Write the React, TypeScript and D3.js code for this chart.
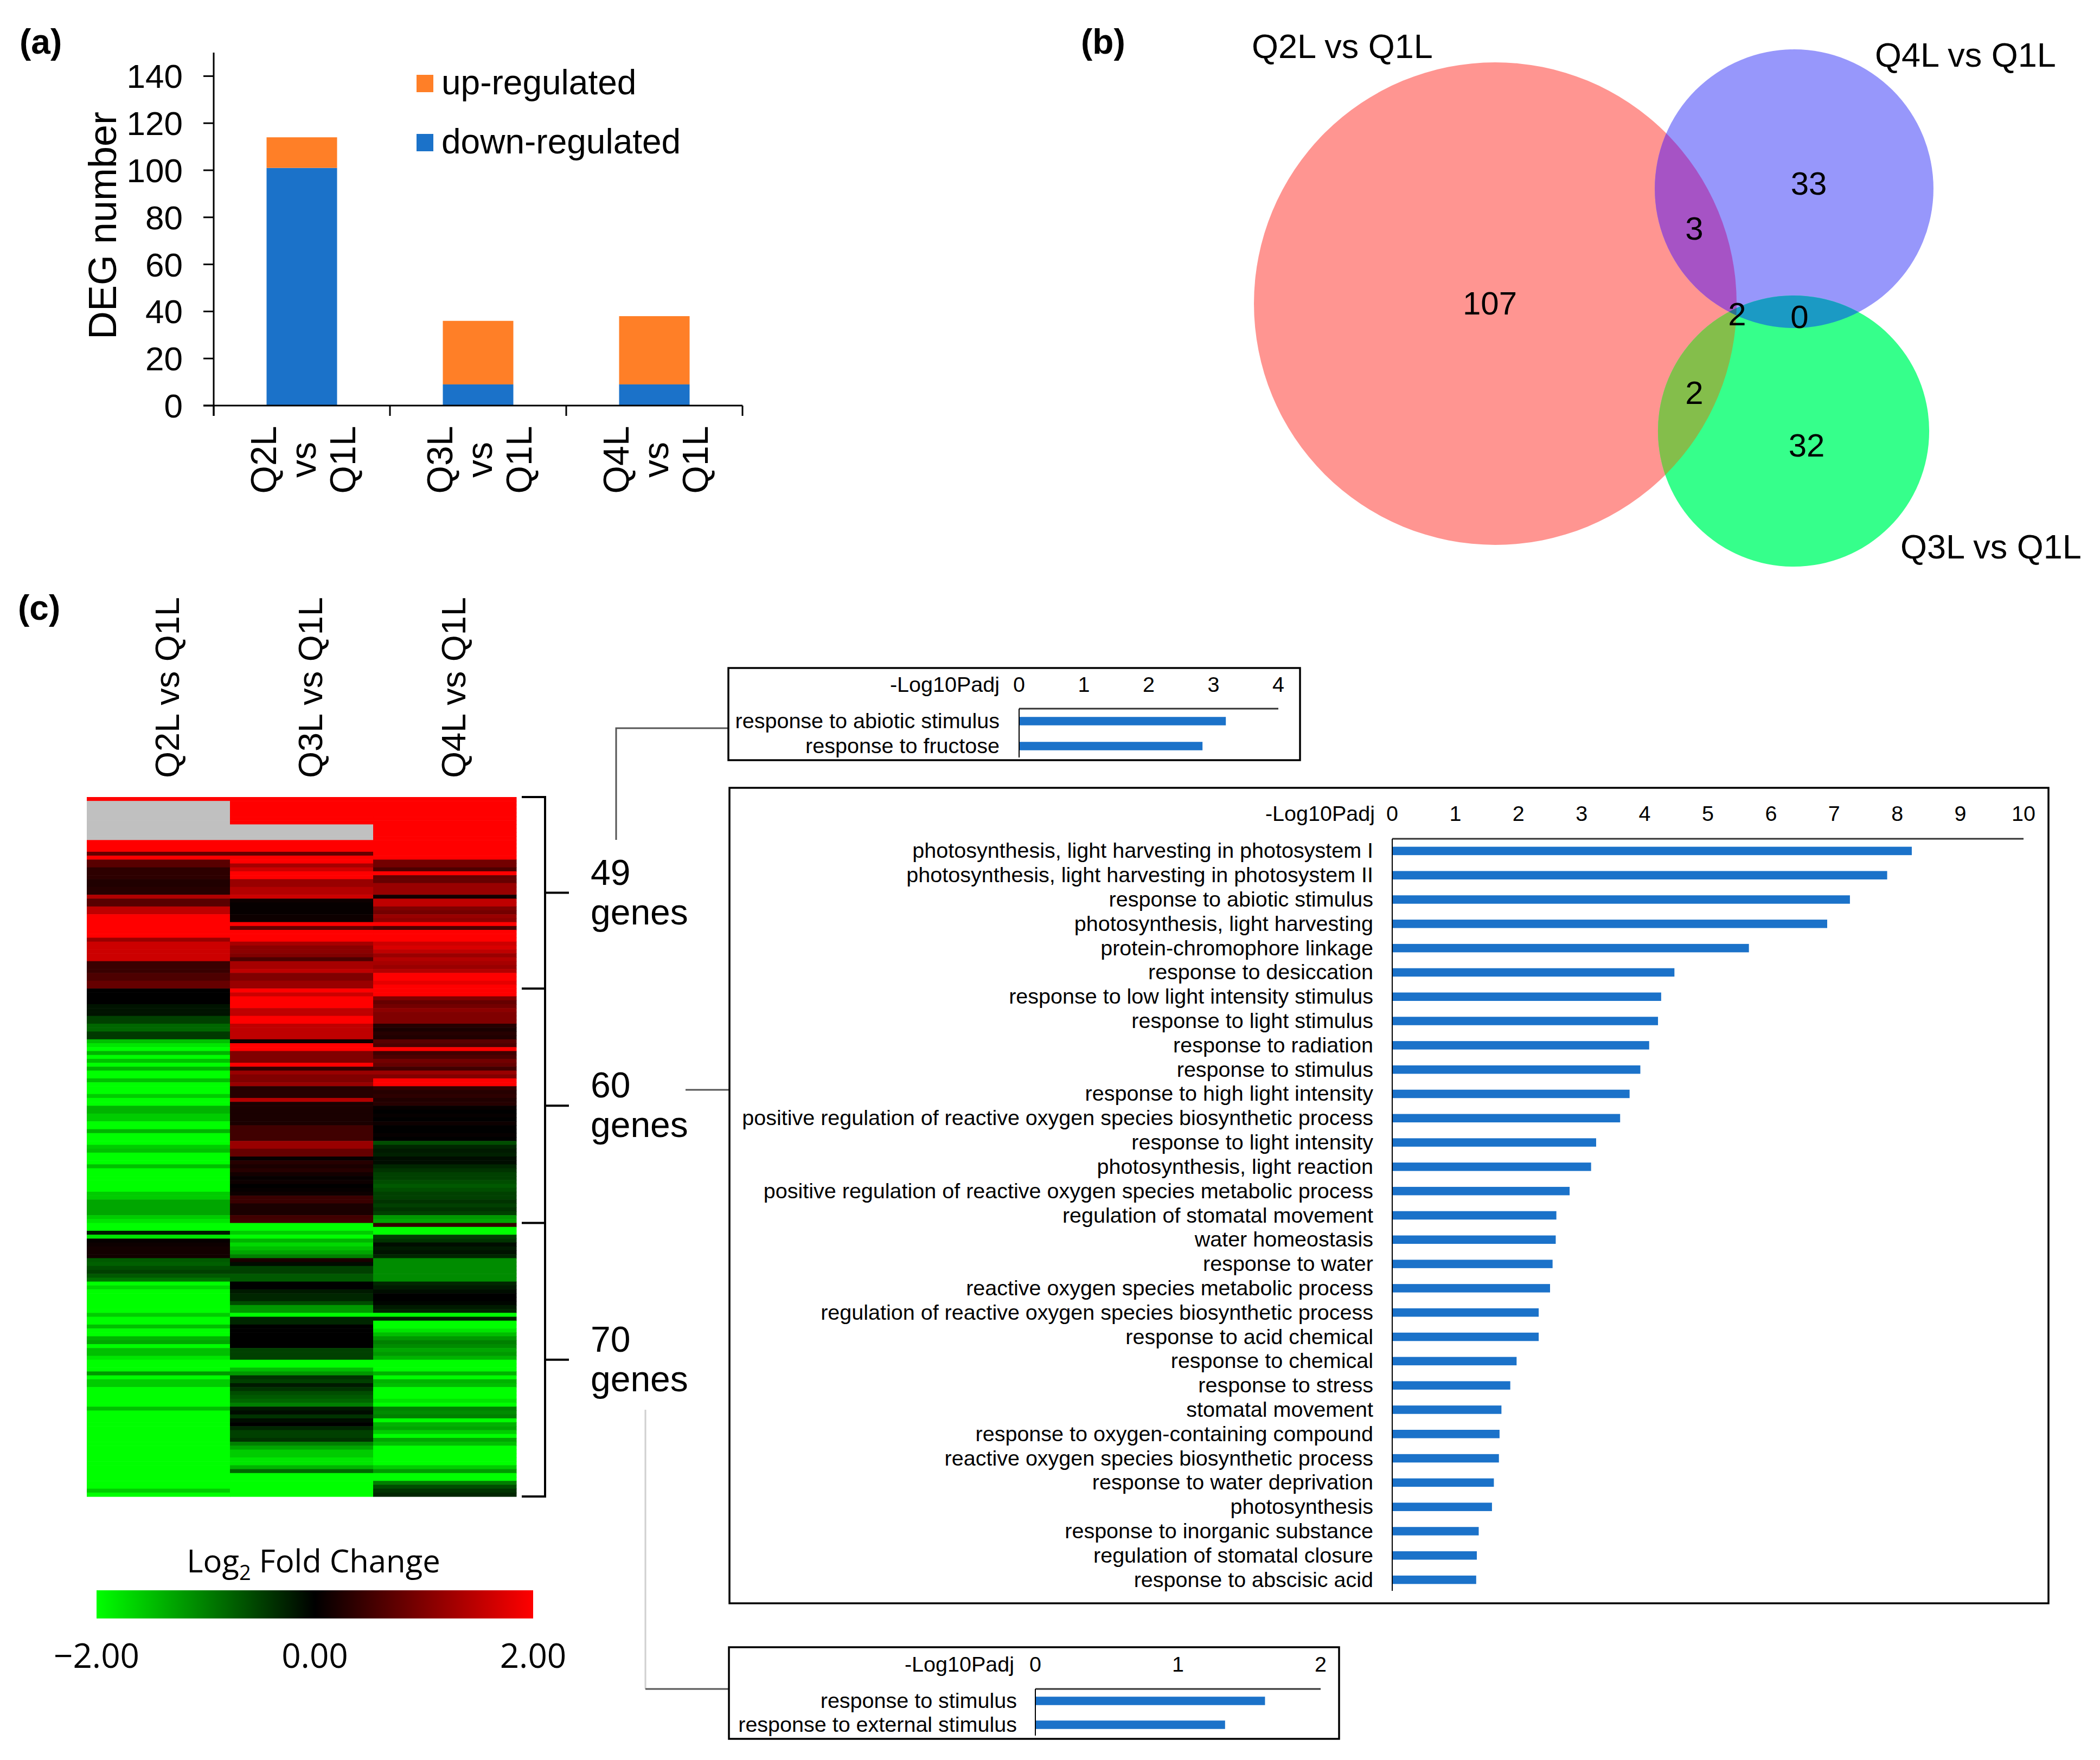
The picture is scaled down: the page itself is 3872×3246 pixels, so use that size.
import * as d3 from 'd3'
import React from 'react'

const W = 3872
const H = 3246
const FONT = "'Liberation Sans', Arial, Helvetica, sans-serif"
const LEGEND_FONT = "'Open Sans', 'Noto Sans', sans-serif"

// (a) DEG numbers per comparison
const degComparisons = ['Q2L vs Q1L', 'Q3L vs Q1L', 'Q4L vs Q1L']
const downRegulated = [101, 9, 9]
const upRegulated = [13, 27, 29]
const degTicks = [0, 20, 40, 60, 80, 100, 120, 140]

// (b) Venn regions
const vennSets = ['Q2L vs Q1L', 'Q4L vs Q1L', 'Q3L vs Q1L']
const vennRegionSets = [['Q2L vs Q1L'], ['Q4L vs Q1L'], ['Q3L vs Q1L'], ['Q2L vs Q1L', 'Q4L vs Q1L'], ['Q2L vs Q1L', 'Q3L vs Q1L'], ['Q4L vs Q1L', 'Q3L vs Q1L'], ['Q2L vs Q1L', 'Q4L vs Q1L', 'Q3L vs Q1L']]
const vennCounts = [107, 33, 32, 3, 2, 0, 2]

// (c) heatmap, log2 fold change, run-length [rows, value] per comparison, null = no value
const heatmapColumns = ['Q2L vs Q1L', 'Q3L vs Q1L', 'Q4L vs Q1L']
const clusterSizes = [49, 60, 70]
const q2lRuns: [number, number | null][] = [
  [1, 2], [10, null], [3, 2], [1, 0.8], [1, 2], [2, 0.7], [3, 0.35], [2, 0.25], [2, 0.3], [1, 1.4], [2, 0.7],
  [2, 1.5], [2, 2], [4, 2], [1, 1.2], [5, 1.6], [3, 0.45], [2, 0.6], [2, 0.8],
  [4, 0], [3, -0.15], [2, -0.5], [2, -0.8], [2, -0.45],
  [1, -1.5], [1, -1.8], [1, -2], [1, -1.4], [1, -2], [1, -1.5], [1, -2], [1, -1.4],
  [2, -2], [1, -1.5], [3, -2], [1, -1.6], [2, -2], [2, -1.4], [2, -1.6], [2, -2], [1, -1.4], [3, -2],
  [1, -1.6], [1, -1.5], [3, -2], [1, -1.5], [6, -2], [2, -1.6], [4, -1.3], [1, -1.6], [1, -1.8],
  [2, -2], [1, -0.2], [1, -1.8], [1, 0.05], [1, 0.1], [3, 0.15],
  [1, -0.7], [1, -0.75], [1, -0.6], [1, -0.5], [1, -0.7], [1, -0.9],
  [1, -2], [1, -1.7], [6, -2], [1, -1.6], [2, -2],
  [1, -1.5], [2, -2], [1, -1.4], [1, -1.3], [1, -2], [2, -1.5], [1, -1.8],
  [3, -2], [1, -1.2], [1, -2], [2, -1.6], [5, -2], [1, -1.5], [20, -2], [1, -1.6], [1, -2],
]
const q3lRuns: [number, number | null][] = [
  [7, 2], [4, null], [3, 2], [1, 0.8], [1, 2],
  [1, 2], [1, 1.3], [1, 1.6], [2, 2], [2, 1.2], [2, 1.4], [1, 1.6],
  [1, 0.1], [3, 0.05], [2, 0.1], [1, 2], [1, 0.8], [3, 2],
  [1, 1.3], [2, 1.1], [1, 1], [1, 0.6], [2, 1.3], [1, 1.5], [2, 1], [2, 1.2],
  [1, 2], [1, 1.6], [3, 2], [2, 1.5], [2, 2], [4, 1.5],
  [1, 0.1], [2, 2], [3, 1], [1, 2], [1, 0.4], [1, 1.2], [2, 1], [1, 1.2],
  [3, 0.3], [1, 1.4], [6, 0.2], [4, 0.5], [2, 1.2], [2, 0.8],
  [1, 0.05], [1, 0.3], [1, 0.2], [1, 0.3], [1, 0.15], [1, 0.05], [1, 0.1], [1, 0], [1, 0.05], [1, 0.1],
  [2, 0.45], [3, 0.2], [2, 0.5],
  [2, -2], [1, -1.6], [1, -2], [1, -1.4], [1, -1.7], [1, -1.5], [1, -1.3], [1, -1],
  [1, 0.2], [1, -0.1], [2, -0.5], [2, -0.7], [2, 0], [1, -0.2], [2, -0.3], [1, -0.6],
  [2, -1.2], [1, -2], [2, -0.3], [6, 0], [3, -0.5],
  [2, -2], [1, -1.5], [1, -1.2], [1, -0.4],
  [1, -0.5], [1, -0.2], [1, -0.4], [1, -0.6], [1, -0.7], [1, -0.8], [1, -1],
  [1, -0.2], [1, -0.1], [1, -0.4], [1, -0.1], [1, 0], [1, -0.3], [2, -0.5], [1, -0.4], [1, -1],
  [1, -1.3], [2, -1.6], [2, -1.8], [1, -1.4], [1, -0.8], [6, -2],
]
const q4lRuns: [number, number | null][] = [
  [16, 2], [2, 0.9], [1, 0.6], [1, 2], [2, 0.8], [3, 1.2], [1, 0.15], [2, 1.5],
  [1, 1], [1, 0.9], [1, 1.2], [1, 1.1], [1, 2], [1, 0.6], [3, 2],
  [1, 1.6], [1, 1.7], [1, 1.5], [1, 1.2], [1, 1.4],
  [1, 1.3], [1, 1.2], [1, 1.4], [2, 2], [1, 1.8], [1, 2],
  [2, 2], [1, 1], [1, 0.8], [1, 0.9], [1, 1.1], [1, 1], [2, 1],
  [1, 0.3], [1, 0.2], [1, 0.3], [1, 0.25], [1, 0.7], [1, 0.6], [1, 2],
  [1, 0.5], [1, 0.6], [1, 0.9], [1, 0.8], [1, 0.5], [1, 1.2], [1, 1], [2, 2],
  [1, 0.4], [1, 0.3], [1, 0.35], [1, 0.25], [1, 0.3],
  [1, 0.05], [1, 0], [1, 0.05], [1, 0], [1, 0.1], [2, 0], [1, 0.05], [1, 0],
  [1, -0.6], [1, -0.3], [1, -0.2], [1, -0.25], [1, -0.1],
  [1, -0.1], [1, -0.3], [1, -0.4], [2, -0.5], [1, -0.6], [1, -0.7], [1, -0.6], [1, -0.5],
  [1, -0.5], [1, -0.4], [1, -0.5], [1, -0.4], [1, -0.5], [1, -1.2], [1, -1.3],
  [1, 0.4], [2, -2], [1, -0.5], [1, -0.4], [1, -0.1], [1, -0.2], [1, -0.15], [1, -0.3],
  [6, -1.1], [1, -0.3], [1, -0.2], [1, -0.1], [2, 0], [1, -0.05], [1, -0.2], [1, -0.3],
  [1, -2], [1, -0.3], [1, -2],
  [1, -2], [1, -1.8], [1, -1.5], [1, -1.2], [1, -1], [1, -1.1], [1, -1.3], [1, -1.2], [1, -1.4],
  [3, -2], [1, -1.4], [1, -2], [1, -1.4], [1, -1.5], [3, -2], [1, -1.8], [1, -2],
  [1, -1], [1, -1.1], [1, -1], [1, -2], [1, -1.4], [1, -1.3], [1, -1.6], [1, -2], [1, -1.3], [1, -1.5],
  [5, -2], [1, -1.6], [1, -1.2], [2, -2], [1, -1], [1, -0.6], [1, -0.4], [1, -0.3],
]
const legendTicks = [-2, 0, 2]

// (c) GO enrichment, -log10 padj
const goTopTerms = ['response to abiotic stimulus', 'response to fructose']
const goTopValues = [3.19, 2.83]
const goMainTerms = [
  'photosynthesis, light harvesting in photosystem I',
  'photosynthesis, light harvesting in photosystem II',
  'response to abiotic stimulus',
  'photosynthesis, light harvesting',
  'protein-chromophore linkage',
  'response to desiccation',
  'response to low light intensity stimulus',
  'response to light stimulus',
  'response to radiation',
  'response to stimulus',
  'response to high light intensity',
  'positive regulation of reactive oxygen species biosynthetic process',
  'response to light intensity',
  'photosynthesis, light reaction',
  'positive regulation of reactive oxygen species metabolic process',
  'regulation of stomatal movement',
  'water homeostasis',
  'response to water',
  'reactive oxygen species metabolic process',
  'regulation of reactive oxygen species biosynthetic process',
  'response to acid chemical',
  'response to chemical',
  'response to stress',
  'stomatal movement',
  'response to oxygen-containing compound',
  'reactive oxygen species biosynthetic process',
  'response to water deprivation',
  'photosynthesis',
  'response to inorganic substance',
  'regulation of stomatal closure',
  'response to abscisic acid',
]
const goMainValues = [8.23, 7.84, 7.25, 6.89, 5.65, 4.47, 4.26, 4.21, 4.07, 3.93, 3.76, 3.61, 3.23, 3.15, 2.81, 2.6, 2.59, 2.54, 2.5, 2.32, 2.32, 1.97, 1.87, 1.73, 1.7, 1.69, 1.61, 1.58, 1.37, 1.34, 1.33]
const goBottomTerms = ['response to stimulus', 'response to external stimulus']
const goBottomValues = [1.61, 1.33]

const BLUE = '#1b72c9'
const ORANGE = '#ff7f27'

const expand = (runs: [number, number | null][]) => runs.flatMap(([n, v]) => Array.from({ length: n }, () => v))

const PanelA = () => {
  const x = d3.scaleBand().domain(degComparisons).range([394, 1369])
  const y = d3.scaleLinear().domain([0, 150]).range([748, 97])
  const bw = x.bandwidth()
  const bounds = [...degComparisons.map((c) => x(c) as number), 1369]
  return (
    <g fontFamily={FONT}>
      <text x={36} y={99} fontSize={64} fontWeight='bold'>(a)</text>
      {degComparisons.map((c, i) => {
        const bx = (x(c) as number) + bw * 0.3
        const total = downRegulated[i] + upRegulated[i]
        return (
          <g key={c}>
            <rect x={bx} width={bw * 0.4} y={y(downRegulated[i])} height={y(0) - y(downRegulated[i])} fill={BLUE} />
            <rect x={bx} width={bw * 0.4} y={y(total)} height={y(downRegulated[i]) - y(total)} fill={ORANGE} />
            {c.split(' ').map((w, j) => (
              <text key={j} transform={`translate(${(x(c) as number) + bw / 2 - 48 + j * 73},848) rotate(-90)`} textAnchor='middle' fontSize={66}>{w}</text>
            ))}
          </g>
        )
      })}
      <line x1={394} x2={394} y1={y(150)} y2={767} stroke='#000' strokeWidth={3} />
      <line x1={375} x2={1369} y1={y(0)} y2={y(0)} stroke='#000' strokeWidth={3} />
      {bounds.map((b) => (
        <line key={b} x1={b} x2={b} y1={y(0)} y2={767} stroke='#000' strokeWidth={3} />
      ))}
      {degTicks.map((t) => (
        <g key={t}>
          <line x1={375} x2={394} y1={y(t)} y2={y(t)} stroke='#000' strokeWidth={3} />
          <text x={337} y={y(t) + 22} textAnchor='end' fontSize={62}>{t}</text>
        </g>
      ))}
      <text transform='translate(214,416) rotate(-90)' textAnchor='middle' fontSize={72}>DEG number</text>
      <rect x={768} y={138} width={31} height={32} fill={ORANGE} />
      <text x={814} y={174} fontSize={64}>up-regulated</text>
      <rect x={768} y={247} width={31} height={32} fill={BLUE} />
      <text x={814} y={283} fontSize={64}>down-regulated</text>
    </g>
  )
}

const PanelB = () => {
  const totals = vennSets.map((s) => d3.sum(vennRegionSets.map((r, i) => (r.includes(s) ? vennCounts[i] : 0))))
  const r = d3.scaleSqrt().domain([0, d3.max(totals) as number]).range([0, 445])
  const centers: [number, number][] = [[2757, 560], [3308, 348], [3307, 795]]
  const labelPos: [number, number][] = [[2747, 580], [3335, 359], [3331, 842], [3124, 442], [3124, 745], [3318, 605], [3203, 600]]
  const setLabels: [number, number][] = [[2308, 107], [3457, 123], [3504, 1030]]
  const circ = (i: number, fill: string, clip?: string) => (
    <circle cx={centers[i][0]} cy={centers[i][1]} r={r(totals[i])} fill={fill} clipPath={clip} />
  )
  return (
    <g fontFamily={FONT}>
      <defs>
        {vennSets.map((s, i) => (
          <clipPath id={`venn-${i}`} key={s}>
            <circle cx={centers[i][0]} cy={centers[i][1]} r={r(totals[i])} />
          </clipPath>
        ))}
      </defs>
      <text x={1993} y={99} fontSize={64} fontWeight='bold'>(b)</text>
      {circ(0, '#ff9591')}
      {circ(1, '#9797fb')}
      {circ(2, '#36ff8b')}
      {circ(1, '#a653c5', 'url(#venn-0)')}
      {circ(2, '#84be4b', 'url(#venn-0)')}
      {circ(2, '#1b9ac4', 'url(#venn-1)')}
      <g clipPath='url(#venn-0)'>{circ(2, '#2d6f8d', 'url(#venn-1)')}</g>
      {vennSets.map((s, i) => (
        <text key={s} x={setLabels[i][0]} y={setLabels[i][1]} fontSize={63}>{s}</text>
      ))}
      {vennCounts.map((c, i) => (
        <text key={i} x={labelPos[i][0]} y={labelPos[i][1]} textAnchor='middle' fontSize={60}>{c}</text>
      ))}
    </g>
  )
}

const color = d3.scaleLinear<string>().domain([-2, 0, 2]).range(['#00ff00', '#000000', '#ff0000']).clamp(true)

const Heatmap = () => {
  const columns = [expand(q2lRuns), expand(q3lRuns), expand(q4lRuns)]
  const nRows = d3.sum(clusterSizes)
  const x = d3.scaleBand().domain(heatmapColumns).range([160, 952])
  const y = d3.scaleBand<number>().domain(d3.range(nRows)).range([1470, 2760])
  const starts = clusterSizes.map((_, i) => d3.sum(clusterSizes.slice(0, i)))
  const edge = (row: number) => (row >= nRows ? 2760 : (y(row) as number))
  const legendX = d3.scaleLinear().domain([-2, 2]).range([178, 983])
  return (
    <g fontFamily={FONT}>
      <text x={33} y={1143} fontSize={64} fontWeight='bold'>(c)</text>
      {heatmapColumns.map((c, ci) => (
        <g key={c}>
          {columns[ci].map((v, ri) => (
            <rect key={ri} x={x(c)} y={y(ri)} width={x.bandwidth() + 0.5} height={y.bandwidth() + 0.6} fill={v === null ? '#c0c0c0' : color(v)} />
          ))}
          <text transform={`translate(${(x(c) as number) + x.bandwidth() / 2 + 38},1435) rotate(-90)`} fontSize={63}>{c}</text>
        </g>
      ))}
      <line x1={1005} x2={1005} y1={1470} y2={2760} stroke='#000' strokeWidth={4} />
      {[...starts, nRows].map((s) => (
        <line key={s} x1={962} x2={1007} y1={edge(s)} y2={edge(s)} stroke='#000' strokeWidth={4} />
      ))}
      {clusterSizes.map((n, i) => {
        const mid = (edge(starts[i]) + edge(starts[i] + n)) / 2
        return (
          <g key={i}>
            <line x1={1005} x2={1049} y1={mid} y2={mid} stroke='#000' strokeWidth={4} />
            <text x={1089} y={mid - 15} fontSize={66}>{n}</text>
            <text x={1089} y={mid + 58} fontSize={66}>genes</text>
          </g>
        )
      })}
      <defs>
        <linearGradient id='lfc'>
          {d3.range(-2, 2.01, 0.5).map((t) => (
            <stop key={t} offset={(t + 2) / 4} stopColor={color(t)} />
          ))}
        </linearGradient>
      </defs>
      <text x={578} y={2900} textAnchor='middle' fontSize={58} fontFamily={LEGEND_FONT}>
        Log<tspan fontSize={38} dy={14}>2</tspan>
        <tspan dy={-14}> Fold Change</tspan>
      </text>
      <rect x={legendX(-2)} y={2933} width={legendX(2) - legendX(-2)} height={52} fill='url(#lfc)' />
      {legendTicks.map((t) => (
        <text key={t} x={legendX(t)} y={3076} textAnchor='middle' fontSize={62} fontFamily={LEGEND_FONT}>
          {t < 0 ? `\u2212${Math.abs(t).toFixed(2)}` : t.toFixed(2)}
        </text>
      ))}
    </g>
  )
}

interface GoProps {
  terms: string[]
  values: number[]
  max: number
  box: [number, number, number, number]
  xRange: [number, number]
  axisY: number
  bottom: number
  titleRight: number
  titleY: number
  labelRight: number
}

const GoChart = ({ terms, values, max, box, xRange, axisY, bottom, titleRight, titleY, labelRight }: GoProps) => {
  const x = d3.scaleLinear().domain([0, max]).range(xRange)
  const y = d3.scaleBand().domain(terms).range([axisY, bottom])
  const bh = 15.5
  return (
    <g fontFamily={FONT} fontSize={39.5}>
      <rect x={box[0]} y={box[1]} width={box[2] - box[0]} height={box[3] - box[1]} fill='#fff' stroke='#000' strokeWidth={3.5} />
      <text x={titleRight} y={titleY} textAnchor='end'>-Log10Padj</text>
      {d3.range(0, max + 1).map((t) => (
        <text key={t} x={x(t)} y={titleY} textAnchor='middle'>{t}</text>
      ))}
      <line x1={x(0)} x2={x(max)} y1={axisY} y2={axisY} stroke='#333' strokeWidth={3} />
      {terms.map((t, i) => {
        const cy = (y(t) as number) + y.bandwidth() / 2
        return (
          <g key={t}>
            <rect x={x(0)} y={cy - bh / 2} width={x(values[i]) - x(0)} height={bh} fill={BLUE} />
            <text x={labelRight} y={cy + 13} textAnchor='end'>{t}</text>
          </g>
        )
      })}
      <line x1={x(0)} x2={x(0)} y1={axisY} y2={bottom - 2} stroke='#000' strokeWidth={2} />
    </g>
  )
}

const App = () => {
  return (
    <svg width={W} height={H} viewBox={`0 0 ${W} ${H}`} style={{ position: 'absolute', left: 0, top: 0, background: '#fff' }}>
      <rect width={W} height={H} fill='#fff' />
      <PanelA />
      <PanelB />
      <Heatmap />
      {/* connectors from clusters to GO charts */}
      <polyline points='1136,1549 1136,1343 1343,1343' fill='none' stroke='#555' strokeWidth={3} />
      <line x1={1264} x2={1345} y1={2010} y2={2010} stroke='#555' strokeWidth={3} />
      <line x1={1190} x2={1190} y1={2600} y2={3115} stroke='#d0d0d0' strokeWidth={3} />
      <line x1={1190} x2={1344} y1={3115} y2={3115} stroke='#555' strokeWidth={3} />
      <GoChart terms={goTopTerms} values={goTopValues} max={4} box={[1343, 1232, 2397, 1402]} xRange={[1879, 2357]} axisY={1307} bottom={1399} titleRight={1843} titleY={1276} labelRight={1843} />
      <GoChart terms={goMainTerms} values={goMainValues} max={10} box={[1345, 1453, 3777, 2957]} xRange={[2567, 3731]} axisY={1547} bottom={2936} titleRight={2535} titleY={1514} labelRight={2532} />
      <GoChart terms={goBottomTerms} values={goBottomValues} max={2} box={[1344, 3038, 2469, 3207]} xRange={[1909, 2435]} axisY={3115} bottom={3203} titleRight={1870} titleY={3083} labelRight={1875} />
    </svg>
  )
}

export default App
